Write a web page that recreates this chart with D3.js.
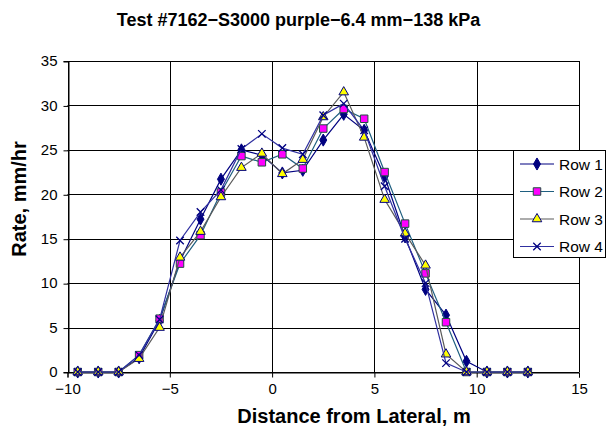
<!DOCTYPE html>
<html><head><meta charset="utf-8">
<script src="https://cdn.jsdelivr.net/npm/d3@7"></script>
<style>body{margin:0;background:#fff}svg{display:block;font-family:"Liberation Sans",Arial,sans-serif}</style>
</head><body><svg id="c" width="608" height="429"></svg>
<script>
const distances = [-9.5,-8.5,-7.5,-6.5,-5.5,-4.5,-3.5,-2.5,-1.5,-0.5,0.5,1.5,2.5,3.5,4.5,5.5,6.5,7.5,8.5,9.5,10.5,11.5,12.5];
const row1 = [0,0,0,1.6,5.8,12.5,17.2,21.7,25.0,24.4,22.4,22.7,26.1,29.0,27.2,22.0,15.2,9.3,6.4,1.2,0,0,0];
const row2 = [0,0,0,1.9,6.0,12.2,15.4,20.2,24.3,23.6,24.5,22.9,27.4,29.6,28.5,22.5,16.7,11.1,5.6,0,0,0,0];
const row3 = [0,0,0,1.5,5.0,12.9,15.8,19.7,23.0,24.6,22.3,23.9,28.7,31.5,26.4,19.4,15.6,12.0,2.0,0,0,0,0];
const row4 = [0,0,0,1.9,5.9,14.8,18.0,20.5,25.1,26.8,25.2,24.5,28.9,30.2,27.2,20.9,15.0,10.0,1.0,0,0,0,0];
const seriesNames = ["Row 1","Row 2","Row 3","Row 4"];
const xTicks = [-10,-5,0,5,10,15];
const yTicks = [0,5,10,15,20,25,30,35];
const title = "Test #7162\u2212S3000 purple\u22126.4 mm\u2212138 kPa";
const xTitle = "Distance from Lateral, m";
const yTitle = "Rate, mm/hr";

const styles = [
  {line:"#000080", marker:"diamond", fill:"#000080", stroke:"#000080"},
  {line:"#1f5f80", marker:"square", fill:"#ff00ff", stroke:"#1f4f3f"},
  {line:"#5a5a5a", marker:"triangle", fill:"#ffff00", stroke:"#000080"},
  {line:"#3030a0", marker:"x", fill:"none", stroke:"#000080"}
];
const seriesVals = [row1,row2,row3,row4];

const svg = d3.select("#c");
const L=67.5, R=579, T=61, B=372;
const x = d3.scaleLinear().domain([-10,15]).range([L,R]);
const y = d3.scaleLinear().domain([0,35]).range([B,T]);
const FONT = "Liberation Sans, Arial, sans-serif";

// gridlines
const g = svg.append("g");
g.selectAll(".gy").data(yTicks).join("line")
  .attr("x1",L).attr("x2",R).attr("y1",d=>Math.round(y(d))+0.5).attr("y2",d=>Math.round(y(d))+0.5)
  .attr("stroke","#000").attr("stroke-width",1);
g.selectAll(".gx").data(xTicks).join("line")
  .attr("y1",T).attr("y2",B).attr("x1",d=>Math.round(x(d))+0.5).attr("x2",d=>Math.round(x(d))+0.5)
  .attr("stroke","#000").attr("stroke-width",1);

// axes
const xAxis = d3.axisBottom(x).tickValues(xTicks).tickSize(5).tickPadding(6)
  .tickFormat(d=>d<0?"\u2212"+Math.abs(d):String(d));
const yAxis = d3.axisLeft(y).tickValues(yTicks).tickSize(5).tickPadding(6);
const ax = svg.append("g").attr("transform",`translate(0,${Math.round(B)+0.5})`).call(xAxis);
const ay = svg.append("g").attr("transform",`translate(${Math.round(L)+0.5},0)`).call(yAxis);
[ax,ay].forEach(a=>{
  a.select(".domain").attr("stroke","#000");
  a.selectAll(".tick line").attr("stroke","#000");
  a.selectAll("text").attr("font-size",15).attr("fill","#000").attr("font-family",FONT);
});
ay.selectAll(".tick line").attr("transform","translate(0,0.5)");

function markerPath(type, s){
  if(type==="diamond") return d3.symbol(d3.symbolDiamond, s*s*0.75)();
  if(type==="square") return d3.symbol(d3.symbolSquare, s*s)();
  if(type==="triangle") return d3.symbol(d3.symbolTriangle, s*s*0.7)();
  const h=s/2; return `M${-h},${-h}L${h},${h}M${-h},${h}L${h},${-h}`;
}

const line = d3.line().x(d=>x(d[0])).y(d=>y(d[1]));
seriesVals.forEach((vals,i)=>{
  const st = styles[i];
  const pts = distances.map((d,j)=>[d,vals[j]]);
  const sg = svg.append("g");
  sg.append("path").attr("d",line(pts)).attr("fill","none").attr("stroke",st.line).attr("stroke-width",1.2);
  sg.selectAll("path.m").data(pts).join("path").attr("class","m")
    .attr("transform",d=>`translate(${x(d[0])},${y(d[1])})`)
    .attr("d",markerPath(st.marker,7.5))
    .attr("fill",st.fill).attr("stroke",st.stroke).attr("stroke-width",st.marker==="x"?1.3:1);
});

// legend
const lg = svg.append("g");
lg.append("rect").attr("x",513.5).attr("y",150.5).attr("width",92).attr("height",107)
  .attr("fill","#fff").attr("stroke","#000");
const ly = d3.scalePoint().domain(seriesNames).range([164,246.5]);
seriesNames.forEach((n,i)=>{
  const st=styles[i], yy=ly(n);
  lg.append("line").attr("x1",520).attr("x2",554).attr("y1",yy).attr("y2",yy).attr("stroke",st.line).attr("stroke-width",1.2);
  lg.append("path").attr("transform",`translate(537,${yy})`).attr("d",markerPath(st.marker,7.5))
    .attr("fill",st.fill).attr("stroke",st.stroke).attr("stroke-width",st.marker==="x"?1.3:1);
  lg.append("text").attr("x",559).attr("y",yy+5.5).attr("font-size",15.5).attr("font-family",FONT).text(n);
});

// titles
svg.append("text").attr("x",298.5).attr("y",26).attr("text-anchor","middle")
  .attr("font-size",18).attr("font-weight","bold").text(title);
svg.append("text").attr("x",354).attr("y",423).attr("text-anchor","middle")
  .attr("font-size",20).attr("font-weight","bold").text(xTitle);
svg.append("text").attr("transform","translate(26,199) rotate(-90)").attr("text-anchor","middle")
  .attr("font-size",20).attr("font-weight","bold").text(yTitle);
</script></body></html>
